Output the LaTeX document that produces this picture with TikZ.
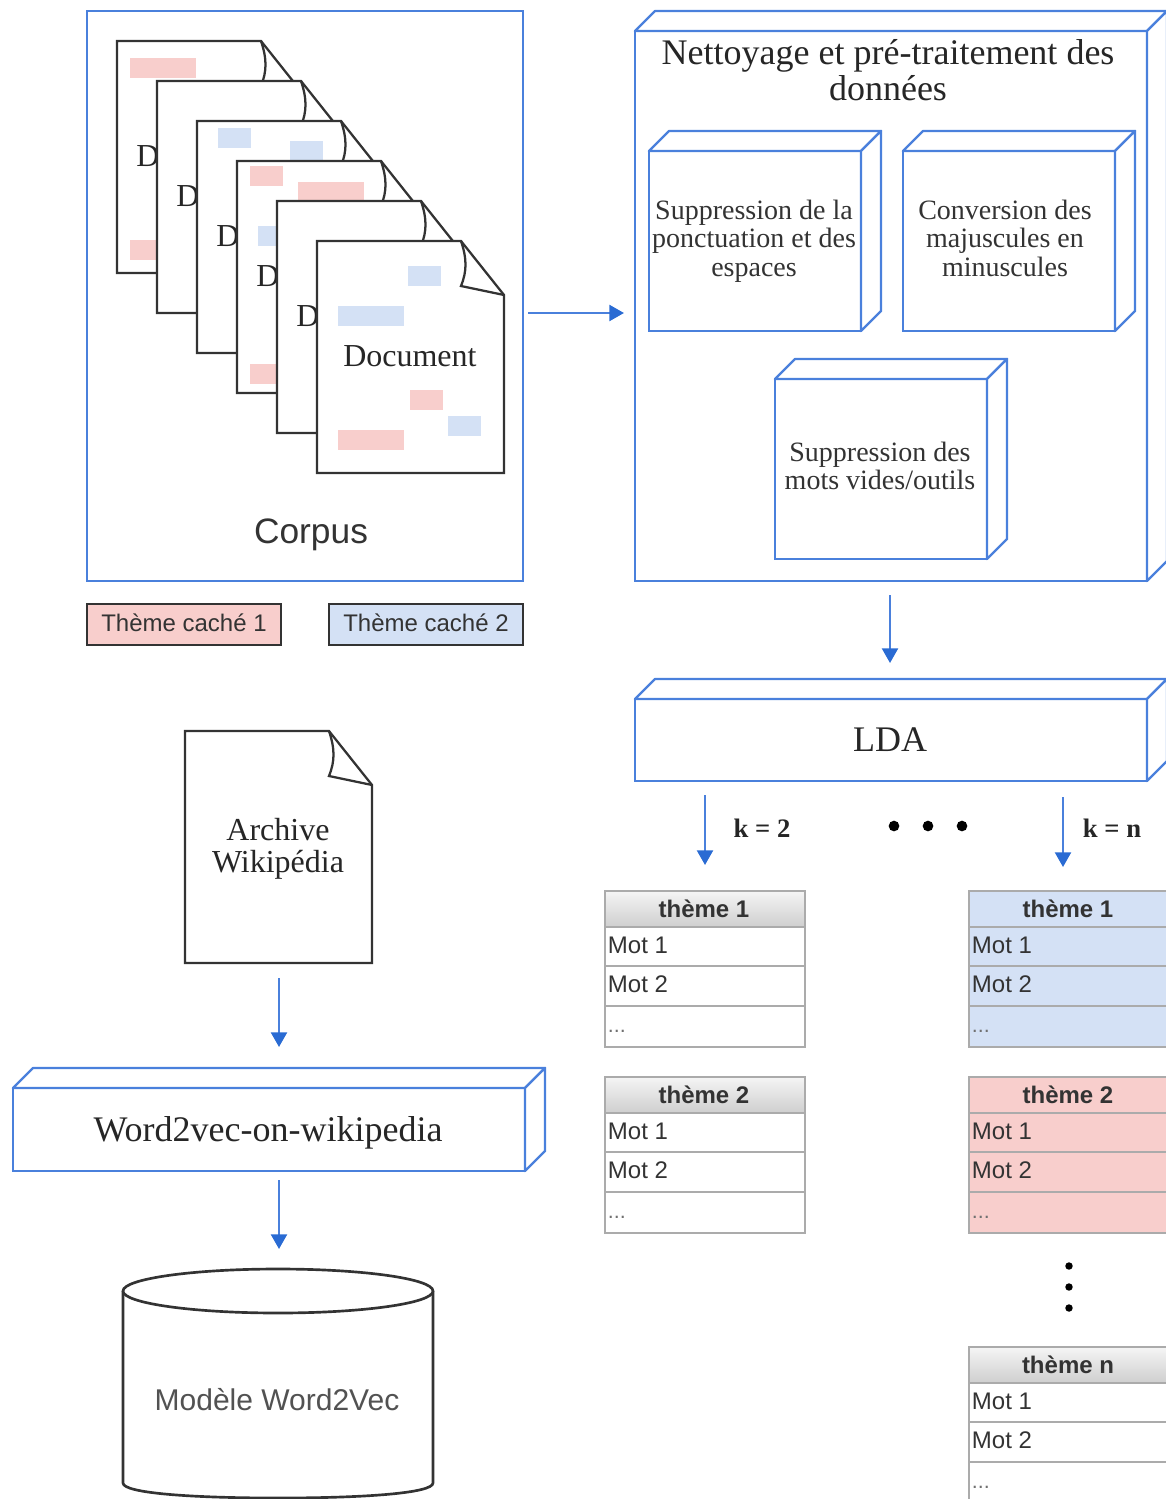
\documentclass[tikz,border=0pt]{standalone}
\usepackage{fontspec}
\setmainfont{Liberation Serif}
\setsansfont{Liberation Sans}
\usetikzlibrary{arrows.meta,calc}
\definecolor{bluel}{HTML}{4A80DC}
\definecolor{bluehead}{HTML}{2A6BD3}
\definecolor{pinkf}{HTML}{F8CECC}
\definecolor{bluef}{HTML}{D4E1F5}
\definecolor{darkl}{HTML}{333333}
\definecolor{grayl}{HTML}{ABABAB}
\definecolor{sanstext}{HTML}{333333}
\tikzset{
  base/.style={rectangle,inner sep=0pt,outer sep=0pt},
  bluebox/.style={base,draw=bluel,line width=1.8pt,fill=white},
  facebox/.style={draw=bluel,line width=1.8pt,line join=round,fill=white},
  arr/.style={draw=bluel,line width=1.7pt,-{Triangle[length=11pt,width=12pt,color=bluehead]}},
  docshape/.style={draw=darkl,line width=1.7pt,fill=white,line join=miter},
  doctext/.style={font=\fontsize{24}{24}\selectfont,text=black!85,align=center,inner sep=0pt},
  titletext/.style={font=\fontsize{27}{27}\selectfont,text=black!85,align=center,inner sep=0pt},
  pinkband/.style={fill=pinkf,draw=none},
  blueband/.style={fill=bluef,draw=none},
  legend/.style={base,draw=darkl,line width=1.7pt,font=\sffamily\fontsize{18}{20}\selectfont,text=sanstext},
  cubetext/.style={font=\fontsize{21}{21.4}\selectfont,text=black!80,align=center,inner sep=0pt},
  bigtext/.style={font=\fontsize{27}{28}\selectfont,text=black!85,align=center,inner sep=0pt},
  ktext/.style={font=\bfseries\fontsize{20}{22}\selectfont,text=black!85,inner sep=0pt},
  thead/.style={base,draw=grayl,line width=1.6pt,font=\sffamily\bfseries\fontsize{18}{20}\selectfont,text=sanstext},
  tcell/.style={base,draw=grayl,line width=1.6pt},
  celltext/.style={font=\sffamily\fontsize{18}{20}\selectfont,text=sanstext,anchor=west,inner sep=0pt},
  smalltext/.style={font=\sffamily\fontsize{16}{16}\selectfont,text=sanstext!70,anchor=west,inner sep=0pt},
  grayhead/.style={top color=gray!8,bottom color=gray!38},
  dot/.style={circle,fill=black,inner sep=0pt,minimum size=#1}
}
% \bx[style]{name}{x1}{y1}{x2}{y2}{text}
\newcommand{\bx}[7][]{\node[#1,minimum width={((#5)-(#3))*0.75pt},minimum height={((#6)-(#4))*0.75pt},at={({((#3)+(#5))/2},{((#4)+(#6))/2})}] (#2) {#7};}
\newcommand{\cubefaces}[1]{%
  \draw[facebox] (#1.north west) -- ++(20,-20) -- ($(#1.north east)+(20,-20)$) -- (#1.north east) -- cycle;
  \draw[facebox] (#1.north east) -- ++(20,-20) -- ($(#1.south east)+(20,-20)$) -- (#1.south east) -- cycle;}
\newcommand{\cube}[5]{\bx[bluebox]{#1}{#2}{#3}{#4}{#5}{}\cubefaces{#1}}
\newcommand{\docpage}[4]{%
  \draw[docshape] (#1,#2) -- ++(144,0) -- ++(43,54) -- (#1+187,#2+#3) -- (#1,#2+#3) -- cycle;
  \draw[docshape,fill=none] (#1+144,#2) .. controls (#1+150,#2+18) and (#1+150,#2+30) .. (#1+144,#2+45) -- (#1+187,#2+54);
  \node[doctext,anchor=west] at (#1+#4,#2+115) {Document};}
\newcommand{\bnd}[5]{\fill[#5] (#1,#2) rectangle (#3,#4);}
% \themetable{prefix}{x}{y}{title}{headerstyle}{cellfill}
\newcommand{\themetable}[6]{%
  \bx[thead,#5]{#1h}{#2}{#3}{#2+200}{#3+36}{\hspace{-1.5pt}#4}
  \bx[tcell,fill=#6]{#1a}{#2}{#3+36}{#2+200}{#3+75}{}
  \node[celltext] (#1at) at ([xshift=2pt,yshift=1pt]#1a.west) {Mot 1};
  \bx[tcell,fill=#6]{#1b}{#2}{#3+75}{#2+200}{#3+115}{}
  \node[celltext] (#1bt) at ([xshift=2pt,yshift=1pt]#1b.west) {Mot 2};
  \bx[tcell,fill=#6]{#1c}{#2}{#3+115}{#2+200}{#3+156}{}
  \node[smalltext] (#1ct) at ([xshift=2pt,yshift=-4pt]#1c.west) {...};}
\begin{document}
\begin{tikzpicture}[x=0.75pt,y=-0.75pt]
\useasboundingbox (0,0) rectangle (1166,1499);
\clip (0,0) rectangle (1166,1499);
% Corpus
\bx[bluebox]{corpus}{87}{11}{523}{581}{}
\node[font=\sffamily\fontsize{26.5}{28}\selectfont,text=sanstext,inner sep=0pt] (corpuslabel) at (311,535) {Corpus};
% documents
\docpage{117}{41}{232}{19}
\bnd{130}{58}{196}{78}{pinkband}
\bnd{130}{240}{196}{260}{pinkband}
\docpage{157}{81}{232}{19}
\docpage{197}{121}{232}{19}
\bnd{218}{128}{251}{148}{blueband}
\bnd{290}{141}{323}{161}{blueband}
\docpage{237}{161}{232}{19}
\bnd{250}{166}{283}{186}{pinkband}
\bnd{298}{182}{364}{202}{pinkband}
\bnd{258}{226}{291}{246}{blueband}
\bnd{250}{364}{283}{384}{pinkband}
\docpage{277}{201}{232}{19}
\docpage{317}{241}{232}{26}
\bnd{408}{266}{441}{286}{blueband}
\bnd{338}{306}{404}{326}{blueband}
\bnd{410}{390}{443}{410}{pinkband}
\bnd{448}{416}{481}{436}{blueband}
\bnd{338}{430}{404}{450}{pinkband}
% legend
\bx[legend,fill=pinkf]{leg1}{87}{604}{281}{645}{\raisebox{2.5pt}{Thème caché 1}}
\bx[legend,fill=bluef]{leg2}{329}{604}{523}{645}{\raisebox{2.5pt}{Thème caché 2}}
% preprocessing
\cube{nett}{635}{31}{1147}{581}
\node[titletext] (nettlabel) at (888,70) {Nettoyage et pré-traitement des\hspace{4pt}\\données};
\cube{cubea}{649}{151}{861}{331}
\node[cubetext] (cubealabel) at (754,241) {Suppression de la\hspace{4.5pt}\\ponctuation et des\\espaces};
\cube{cubeb}{903}{151}{1115}{331}
\node[cubetext] (cubeblabel) at (1005,238) {Conversion des\\majuscules en\\minuscules};
\cube{cubec}{775}{379}{987}{559}
\node[cubetext] (cubeclabel) at (880,466) {Suppression des\hspace{6pt}\\mots vides/outils};
\cube{lda}{635}{699}{1147}{781}
\node[bigtext] (ldalabel) at (890,740) {LDA};
\draw[arr,shorten <=3.75pt,shorten >=8.25pt] (corpus.east |- 0,313) -- (nett.west |- 0,313);
\draw[arr,shorten <=10.5pt,shorten >=27pt] (nett.south -| ldalabel) -- (lda.north -| ldalabel);
% k labels
\coordinate (kleft) at (705,781);
\coordinate (kright) at (1063,781);
\themetable{ta}{605}{891}{thème 1}{grayhead}{white}
\themetable{tb}{605}{1077}{thème 2}{grayhead}{white}
\themetable{tc}{969}{891}{thème 1}{fill=bluef}{bluef}
\themetable{td}{969}{1077}{thème 2}{fill=pinkf}{pinkf}
\themetable{te}{969}{1347}{thème n}{grayhead}{white}
\draw[arr,shorten <=10.5pt,shorten >=19.5pt] (kleft) -- (kleft |- tah.north);
\draw[arr,shorten <=12pt,shorten >=18pt] (kright) -- (kright |- tch.north);
\node[ktext] (k2) at (762,828) {k = 2};
\node[ktext] (kn) at (1112,828) {k = n};
\node[dot=8pt] (d1) at (894,826) {};
\node[dot=8pt] (d2) at (928,826) {};
\node[dot=8pt] (d3) at (962,826) {};
\node[dot=5.6pt] (v1) at (1069,1266) {};
\node[dot=5.6pt] (v2) at (1069,1287) {};
\node[dot=5.6pt] (v3) at (1069,1308) {};
% Wikipedia
\draw[docshape] (185,731) -- (329,731) -- (372,785) -- (372,963) -- (185,963) -- cycle;
\draw[docshape,fill=none] (329,731) .. controls (335,749) and (335,761) .. (329,776) -- (372,785);
\coordinate (archS) at (279,963);
\node[doctext] (archlabel) at (278,849) {Archive\\Wikipédia};
\cube{wv}{13}{1088}{525}{1171}
\node[bigtext] (wvlabel) at (268,1133) {Word2vec-on-wikipedia};
\coordinate (wvN) at (279,1088);
\coordinate (wvS) at (279,1171);
\coordinate (cylN) at (279,1269);
\draw[arr,shorten <=11.25pt,shorten >=15.75pt] (archS) -- ($(wvN)+(0,-20)$);
\draw[arr,shorten <=6.75pt,shorten >=15pt] (wvS) -- (cylN);
% cylinder
\draw[draw=darkl,line width=2pt,fill=white] (123,1291) -- (123,1483) .. controls (123,1493) and (190,1498) .. (278,1498) .. controls (366,1498) and (433,1493) .. (433,1483) -- (433,1291);
\draw[draw=darkl,line width=2pt,fill=white] (278,1291) ellipse [x radius=155,y radius=22];
\node[font=\sffamily\fontsize{22.5}{24}\selectfont,text=sanstext!85,inner sep=0pt] (cyllabel) at (277,1400) {Modèle Word2Vec};
\end{tikzpicture}
\end{document}
